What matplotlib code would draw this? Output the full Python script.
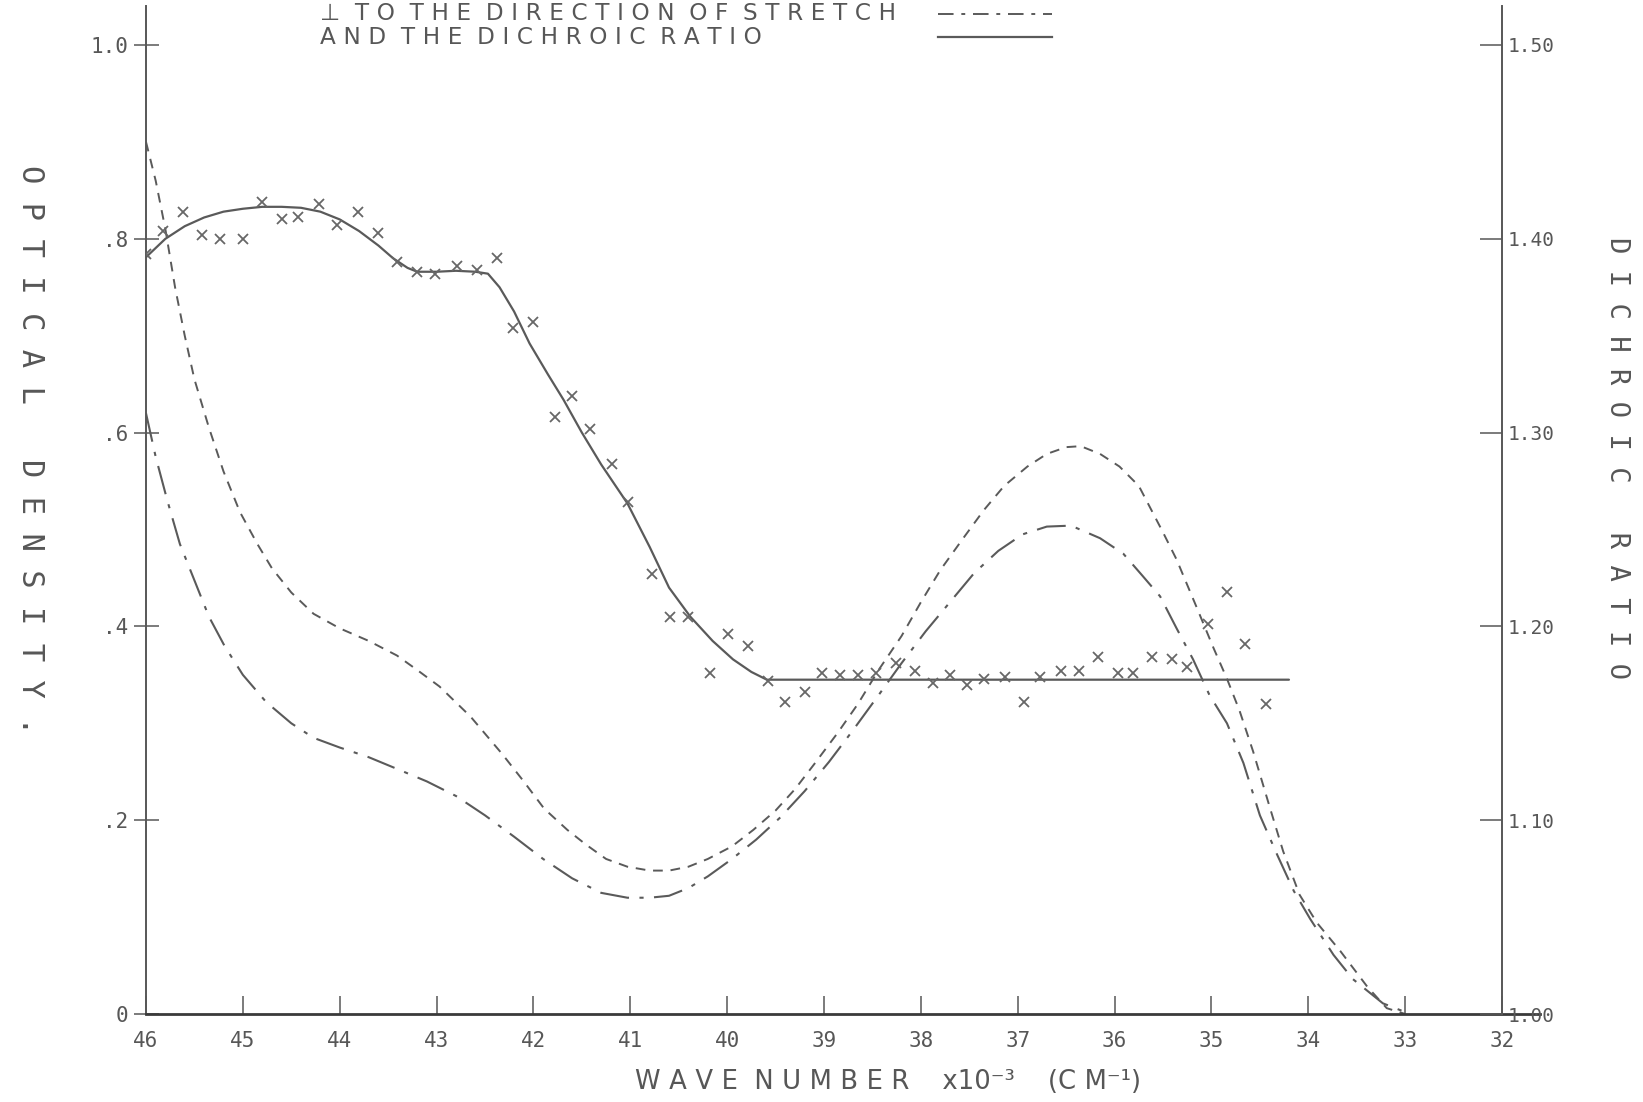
import matplotlib
matplotlib.use("Agg")
import matplotlib.pyplot as plt
from matplotlib.lines import Line2D

# Wave number (x10^3 cm^-1) against optical density, parallel to the stretch
par_wave = [46.0, 45.9, 45.8, 45.7, 45.6, 45.5, 45.35, 45.2, 45.03, 44.85, 44.7, 44.5,
            44.27, 44.0, 43.7, 43.41, 43.2, 42.97, 42.65, 42.32, 42.1, 41.89, 41.65,
            41.46, 41.25, 41.03, 40.8, 40.6, 40.4, 40.2, 39.95, 39.73, 39.5, 39.3, 39.1,
            38.86, 38.65, 38.43, 38.2, 38.0, 37.8, 37.57, 37.35, 37.14, 36.9, 36.7, 36.5,
            36.35, 36.15, 35.95, 35.75, 35.5, 35.36, 35.15, 34.98, 34.84, 34.71, 34.57,
            34.4, 34.26, 34.09, 33.91, 33.67, 33.39, 33.19, 33.0]
par_od = [0.90, 0.86, 0.81, 0.75, 0.70, 0.655, 0.605, 0.56, 0.518, 0.485, 0.46, 0.435,
          0.413, 0.398, 0.385, 0.370, 0.355, 0.338, 0.307, 0.268, 0.24, 0.212, 0.19,
          0.175, 0.16, 0.152, 0.148, 0.148, 0.152, 0.16, 0.173, 0.19, 0.21, 0.232, 0.258,
          0.29, 0.32, 0.356, 0.39, 0.425, 0.458, 0.49, 0.52, 0.545, 0.565, 0.578, 0.585,
          0.586, 0.578, 0.565, 0.545, 0.497, 0.469, 0.419, 0.378, 0.346, 0.313, 0.271,
          0.214, 0.168, 0.123, 0.094, 0.065, 0.028, 0.006, 0.0]

# Optical density perpendicular to the stretch
perp_wave = [46.0, 45.9, 45.78, 45.65, 45.51, 45.35, 45.19, 45.0, 44.76, 44.5, 44.27,
             44.0, 43.7, 43.41, 43.1, 42.8, 42.5, 42.2, 41.9, 41.6, 41.3, 41.03, 40.8,
             40.6, 40.4, 40.2, 39.95, 39.7, 39.45, 39.2, 38.95, 38.7, 38.43, 38.2, 37.95,
             37.7, 37.45, 37.2, 36.95, 36.7, 36.45, 36.15, 35.91, 35.71, 35.53, 35.36,
             35.19, 35.02, 34.84, 34.67, 34.5, 34.32, 34.15, 33.98, 33.74, 33.54, 33.23,
             33.0]
perp_od = [0.62, 0.575, 0.53, 0.485, 0.45, 0.41, 0.38, 0.35, 0.322, 0.30, 0.285, 0.275,
           0.265, 0.253, 0.24, 0.225, 0.205, 0.183, 0.16, 0.14, 0.125, 0.12, 0.12, 0.122,
           0.13, 0.142, 0.16, 0.18, 0.203, 0.23, 0.26, 0.293, 0.33, 0.362, 0.395, 0.425,
           0.455, 0.478, 0.495, 0.503, 0.504, 0.491, 0.475, 0.452, 0.431, 0.398, 0.366,
           0.329, 0.30, 0.259, 0.205, 0.164, 0.127, 0.098, 0.061, 0.036, 0.011, 0.002]

# Smoothed dichroic ratio
ratio_wave = [46.0, 45.8, 45.6, 45.4, 45.2, 45.0, 44.8, 44.6, 44.4, 44.2, 44.0, 43.8,
              43.6, 43.45, 43.3, 43.2, 43.0, 42.8, 42.6, 42.47, 42.35, 42.2, 42.04,
              41.85, 41.69, 41.5, 41.3, 41.03, 40.8, 40.6, 40.38, 40.15, 39.94, 39.75,
              39.59, 34.2]
ratio_line = [1.3905, 1.400, 1.4065, 1.411, 1.414, 1.4155, 1.4165, 1.4165, 1.416, 1.414,
              1.410, 1.404, 1.3965, 1.390, 1.385, 1.383, 1.383, 1.3835, 1.383, 1.382,
              1.375, 1.3625, 1.346, 1.330, 1.317, 1.300, 1.2835, 1.2635, 1.241, 1.220,
              1.205, 1.1925, 1.183, 1.1765, 1.1725, 1.1725]

# Measured dichroic ratios
pts_wave = [46.0, 45.82, 45.62, 45.42, 45.24, 45.0, 44.8, 44.6, 44.43, 44.21, 44.03,
            43.81, 43.6, 43.41, 43.2, 43.02, 42.79, 42.58, 42.38, 42.21, 42.0, 41.78,
            41.6, 41.42, 41.19, 41.02, 40.78, 40.59, 40.4, 40.18, 39.99, 39.78, 39.58,
            39.4, 39.2, 39.02, 38.83, 38.65, 38.46, 38.26, 38.06, 37.87, 37.7, 37.52,
            37.35, 37.13, 36.94, 36.77, 36.55, 36.37, 36.17, 35.97, 35.81, 35.61, 35.41,
            35.25, 35.04, 34.84, 34.65, 34.44]
pts_ratio = [1.392, 1.404, 1.414, 1.402, 1.400, 1.400, 1.419, 1.410, 1.411, 1.418, 1.407,
             1.414, 1.403, 1.388, 1.383, 1.382, 1.386, 1.384, 1.390, 1.354, 1.357, 1.308,
             1.319, 1.302, 1.284, 1.264, 1.227, 1.205, 1.205, 1.176, 1.196, 1.190, 1.172,
             1.161, 1.166, 1.176, 1.175, 1.175, 1.176, 1.181, 1.177, 1.171, 1.175, 1.170,
             1.173, 1.174, 1.161, 1.174, 1.177, 1.177, 1.184, 1.176, 1.176, 1.184, 1.183,
             1.179, 1.201, 1.218, 1.191, 1.160]

wave_ticks = list(range(46, 31, -1))
od_ticks = [0.0, 0.2, 0.4, 0.6, 0.8, 1.0]
od_labels = ["0", ".2", ".4", ".6", ".8", "1.0"]
ratio_ticks = [1.00, 1.10, 1.20, 1.30, 1.40, 1.50]
ratio_labels = ["1.00", "1.10", "1.20", "1.30", "1.40", "1.50"]

INK = "#575757"
PEN = "#5a5a5a"
MONO = ["DejaVu Sans Mono", "DejaVu Sans"]
SANS = ["DejaVu Sans", "DejaVu Sans Mono"]
GAP = "\u2004"          # three-per-em space between letters


def lettered(text, word_gap=2):
    """Mono stencil lettering: a gap between letters, a wider one between words."""
    return (" " * word_gap).join(" ".join(word) for word in text.split())


def tracked(text):
    """Proportional lettering opened up with narrow spaces between the letters."""
    return "  ".join(GAP.join(word) for word in text.split(" "))


W, H = 1643, 1102
fig = plt.figure(figsize=(W / 100, H / 100), dpi=100)
fig.patch.set_facecolor("white")
renderer = fig.canvas.get_renderer()


def fit_text(x_px, y_px, text, width_px, ha="left", **kw):
    """Place text and scale its size so it spans width_px."""
    t = fig.text(x_px / W, 1 - y_px / H, text, ha=ha, va="center", fontsize=14, **kw)
    w = t.get_window_extent(renderer=renderer).width
    t.set_fontsize(14 * width_px / w)
    return t


x0, x1 = 146, 1540          # pixel extent of the wave-number axis
y0, ytop = 1014, 6          # pixel extent of the optical-density axis
px_per_unit = 96.86
ax = fig.add_axes([x0 / W, 1 - y0 / H, (x1 - x0) / W, (y0 - ytop) / H])
ax.set_xlim(46, 46 - (x1 - x0) / px_per_unit)
od_top = (y0 - ytop) / 969.0
ax.set_ylim(0, od_top)

ax2 = ax.twinx()
ax2.set_ylim(1.0, 1.0 + 0.5 * od_top)

for s in ("top", "right"):
    ax.spines[s].set_visible(False)
for s in ("top", "left", "bottom"):
    ax2.spines[s].set_visible(False)
ax.spines["left"].set_color(INK)
ax.spines["left"].set_linewidth(1.4)
ax.spines["bottom"].set_color("#3a3a3a")
ax.spines["bottom"].set_linewidth(2.0)
ax2.spines["right"].set_position(("data", 32))
ax2.spines["right"].set_color(INK)
ax2.spines["right"].set_linewidth(1.4)

ax.set_xticks(wave_ticks)
ax.set_xticklabels([str(t) for t in wave_ticks])
ax.tick_params(axis="x", direction="in", length=13, width=1.1, color=INK,
               pad=12, labelsize=15, labelcolor=INK)
ax.set_yticks(od_ticks)
ax.set_yticklabels(od_labels)
ax.tick_params(axis="y", direction="inout", length=18, width=1.1, color=INK,
               pad=4, labelsize=15, labelcolor=INK)
ax2.set_yticks(ratio_ticks)
ax2.set_yticklabels(ratio_labels)
ax2.tick_params(axis="y", direction="in", length=16, width=1.1, color=INK,
                pad=4, labelsize=14, labelcolor=INK)
for lab in ax.get_xticklabels() + ax.get_yticklabels() + ax2.get_yticklabels():
    lab.set_family(MONO)

# Optical density curves
ax.plot(par_wave, par_od, color=PEN, lw=1.4, ls=(0, (5, 4)))
ax.plot(perp_wave, perp_od, color=PEN, lw=1.5, ls=(0, (14, 5, 2, 5)))

# Dichroic ratio: smoothed curve and measured points
ax2.plot(ratio_wave, ratio_line, color=PEN, lw=1.6, solid_capstyle="round")
ax2.plot(pts_wave, pts_ratio, ls="none", marker="x", ms=7, mew=1.3, color="#676767")

# Key at the head of the sheet
k1 = fit_text(320, 14, "\u22a5  " + tracked("TO THE DIRECTION OF STRETCH"), 575,
              color=INK, family=SANS)
fig.text(320 / W, 1 - 38 / H, tracked("AND THE DICHROIC RATIO"), ha="left",
         va="center", fontsize=k1.get_fontsize(), color=INK, family=SANS)
fig.add_artist(Line2D([938 / W, 1052 / W], [1 - 14 / H, 1 - 14 / H],
                      transform=fig.transFigure, color=PEN, lw=1.4,
                      ls=(0, (8, 4, 2, 4))))
fig.add_artist(Line2D([938 / W, 1052 / W], [1 - 37 / H, 1 - 37 / H],
                      transform=fig.transFigure, color=PEN, lw=1.6))

# Axis titles
xtitle = (tracked("WAVE NUMBER") + "    x10\u207b\u00b3    (" + tracked("CM")
          + "\u207b\u00b9)")
fit_text(888, 1082, xtitle, 508, ha="center", color=INK, family=SANS)
fig.text(30 / W, 1 - 450 / H, lettered("OPTICAL DENSITY.", 3), rotation=-90,
         ha="center", va="center", fontsize=22, color=INK, family=MONO)
fig.text(1617 / W, 1 - 458 / H, lettered("DICHROIC RATIO", 3), rotation=-90,
         ha="center", va="center", fontsize=19.5, color=INK, family=MONO)

fig.savefig("out.png", dpi=100, facecolor="white")
